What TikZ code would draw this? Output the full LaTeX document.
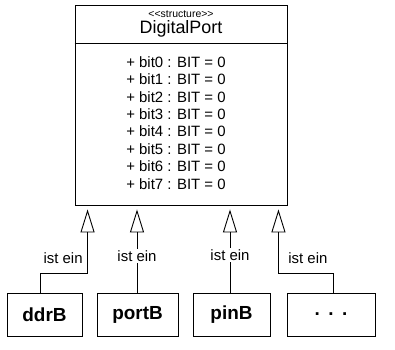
\documentclass[tikz,border=0pt]{standalone}
\usepackage{fontspec}
\setmainfont{Liberation Sans}[Ligatures=TeXOff]
\usepackage{tikz}
\usetikzlibrary{arrows.meta,positioning,calc}

\tikzset{
  classbox/.style={draw,line width=0.9bp,inner sep=0pt},
  isa/.style={line width=0.9bp,-{Triangle[open,length=23bp,width=14bp,line width=0.9bp]},shorten >=4bp},
  isalabel/.style={font=\fontsize{15}{17}\selectfont,inner sep=1.5bp}
}

\begin{document}
\begin{tikzpicture}[x=1bp,y=1bp]
  \useasboundingbox (0,0) rectangle (395,350);
  % structure class
  \node[classbox,minimum width=212bp,minimum height=200bp] (dp) at (181,245) {};
  \draw[line width=0.9bp] (dp.west |- 0,307) -- (dp.east |- 0,307);
  \node[font=\fontsize{10.5}{12}\selectfont,inner sep=0pt] (stereo) at (181,335.5) {<<structure>>};
  \node[font=\fontsize{18}{20}\selectfont,inner sep=0pt] (title) at (181,321.5) {DigitalPort};
  % attributes bit0..bit7
  \foreach \i in {0,...,7} {
    \node[font=\fontsize{15}{17}\selectfont,inner sep=0pt] (bit\i) at (176,{288-17.4*\i}) {+ bit\i\ : BIT = 0};
  }
  % the registers
  \foreach \x/\w/\name/\txt in {44.5/75/ddr/ddrB, 137.5/81/port/portB, 231.5/77/pin/pinB, 331/88/more/{.\ \,.\ \,.}} {
    \node[classbox,minimum width=\w bp,minimum height=43bp,font=\bfseries\fontsize{19}{22}\selectfont] (\name) at (\x,35.5) {\txt};
  }
  % generalisations
  \draw[isa] ([xshift=-4.5bp]ddr.north) -- ++(0,19) -| node[isalabel,pos=0.616,left,xshift=-3bp] (l1) {ist ein} ([xshift=13bp]dp.south west);
  \draw[isa] ([xshift=-0.5bp]port.north) -- ([xshift=-0.5bp]port.north |- dp.south)
    node[isalabel,pos=0.42,fill=white] (l2) {ist ein};
  \draw[isa] ([xshift=-1.5bp]pin.north) -- ([xshift=-1.5bp]pin.north |- dp.south)
    node[isalabel,pos=0.43,fill=white] (l3) {ist ein};
  \draw[isa] ([xshift=2bp]more.north) -- ++(0,19) -| node[isalabel,pos=0.616,right,xshift=8bp] (l4) {ist ein} ([xshift=-9bp]dp.south east);
\end{tikzpicture}
\end{document}
